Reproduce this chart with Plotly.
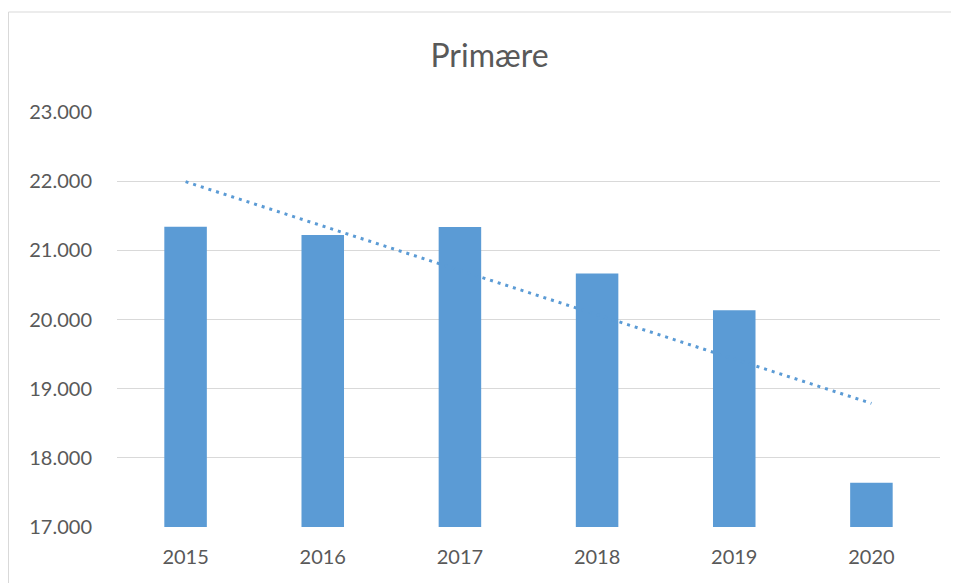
import numpy as np
import plotly.graph_objects as go

years = ["2015", "2016", "2017", "2018", "2019", "2020"]
values = [21340, 21222, 21338, 20665, 20135, 17640]
y_ticks = [17000, 18000, 19000, 20000, 21000, 22000, 23000]

# linear trendline (as in the original spreadsheet chart)
xi = np.arange(len(values))
slope, intercept = np.polyfit(xi, values, 1)
trend = slope * xi + intercept

BLUE = "#5B9BD5"
GRID = "#D9D9D9"
TXT = "#595959"
FONT = "Lato, 'Open Sans', sans-serif"

fig = go.Figure()
fig.add_trace(go.Bar(x=years, y=values, marker=dict(color=BLUE, line=dict(width=0)),
                     width=0.31, showlegend=False))
fig.add_trace(go.Scatter(x=years, y=trend, mode="lines",
                         line=dict(color=BLUE, width=3, dash="3px,5px"), showlegend=False))

# page body has an 8px margin; figure coordinates are shifted accordingly
L, R, T, B = 109, 27, 104, 64
W, H = 959, 583
pw, ph = W - L - R, H - T - B

fig.update_layout(
    width=W, height=H,
    margin=dict(l=L, r=R, t=T, b=B),
    paper_bgcolor="white", plot_bgcolor="white",
    separators=",.",
    title=dict(text="Primære", x=481.5 / W, xref="container", xanchor="center",
               y=1 - 48 / H, yref="container", yanchor="middle",
               font=dict(family=FONT, size=32, color=TXT)),
    font=dict(family=FONT, size=20, color=TXT),
    xaxis=dict(showgrid=False, showline=False, ticks="", ticklabelstandoff=16,
               tickfont=dict(size=20, color=TXT)),
    yaxis=dict(range=[17000, 23000], tickvals=y_ticks, tickformat=",",
               showgrid=True, gridcolor=GRID, gridwidth=1.3, zeroline=False,
               showline=False, ticks="", ticklabelstandoff=24,
               tickfont=dict(size=20, color=TXT)),
    shapes=[dict(type="rect", xref="paper", yref="paper",
                 x0=(0.5 - L) / pw, x1=(W + 20 - L) / pw,
                 y0=-(B + 20) / ph, y1=1 + (T - 4) / ph,
                 line=dict(color="#D9D9D9", width=1), fillcolor="rgba(0,0,0,0)", layer="below")],
)

fig.write_html("out.html")
